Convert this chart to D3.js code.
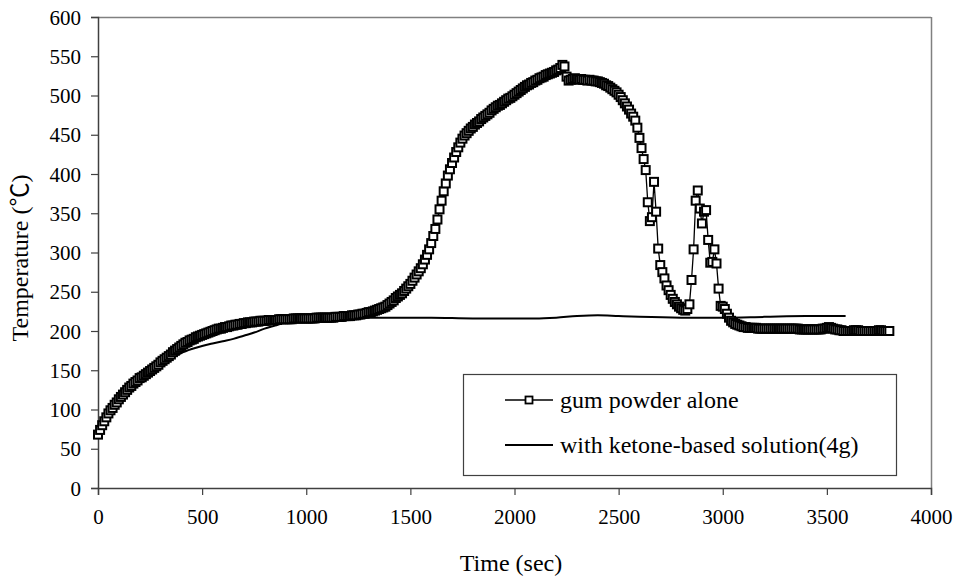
<!DOCTYPE html>
<html>
<head>
<meta charset="utf-8">
<script src="https://cdn.jsdelivr.net/npm/d3@7"></script>
<style>
  html, body { margin: 0; padding: 0; background: #fff; }
</style>
</head>
<body>
<svg id="chart" width="959" height="579"></svg>
<script>
// ---- data ----
const xTicks = [0, 500, 1000, 1500, 2000, 2500, 3000, 3500, 4000];
const yTicks = [0, 50, 100, 150, 200, 250, 300, 350, 400, 450, 500, 550, 600];
const seriesNames = ["gum powder alone", "with ketone-based solution(4g)"];

// gum powder alone: sampled every 10 s starting at 0 s
const gumStep = 10;
const gumTemp = [
  68, 74, 80, 85, 90, 95, 99, 102, 106, 109,
  113, 116, 119, 122, 125, 128, 130, 133, 135, 137,
  140, 141, 143, 145, 147, 149, 151, 153, 155, 157,
  160, 162, 164, 166, 168, 170, 173, 175, 177, 179,
  181, 183, 185, 186, 188, 189, 190, 192, 193, 194,
  195, 196, 197, 198, 199, 200, 201, 202, 203, 203,
  204, 205, 205, 206, 207, 207, 208, 208, 209, 209,
  210, 210, 211, 211, 211, 212, 212, 212, 213, 213,
  213, 213, 214, 214, 214, 214, 214, 215, 215, 215,
  215, 215, 215, 215, 216, 216, 216, 216, 216, 216,
  216, 216, 216, 216, 216, 217, 217, 217, 217, 217,
  217, 217, 217, 217, 218, 218, 218, 218, 219, 219,
  219, 219, 220, 220, 220, 221, 221, 222, 222, 223,
  224, 224, 225, 226, 227, 228, 229, 230, 231, 233,
  235, 237, 239, 242, 244, 246, 248, 251, 254, 257,
  260, 264, 268, 272, 276, 280, 285, 291, 297, 304,
  312, 321, 330, 342, 355, 366, 378, 388, 398, 406,
  414, 421, 428, 434, 440, 445, 449, 452, 455, 458,
  460, 463, 465, 467, 470, 472, 474, 476, 478, 481,
  483, 485, 487, 488, 490, 492, 494, 496, 497, 499,
  501, 503, 505, 507, 509, 511, 513, 514, 516, 517,
  519, 520, 522, 523, 524, 526, 527, 528, 529, 530,
  532, 533, 535, 539, 537, 524, 519, 520, 521, 522,
  521, 520, 521, 520, 520, 519, 520, 519, 519, 518,
  518, 517, 516, 515, 513, 512, 510, 508, 506, 504,
  501, 498, 494, 490, 486, 482, 477, 473, 468, 459,
  446, 433, 419, 405, 364, 340, 345, 390, 352, 305,
  284, 275, 267, 258, 252, 246, 241, 237, 234, 231,
  229, 227, 226, 228, 234, 265, 304, 366, 379, 356,
  337, 352, 354, 316, 287, 288, 304, 286, 254, 232,
  231, 228, 222, 217, 213, 211, 209, 208, 207, 206,
  205, 205, 204, 204, 204, 204, 204, 203, 203, 203,
  203, 203, 203, 203, 203, 203, 203, 203, 203, 203,
  203, 203, 203, 203, 203, 203, 203, 202, 202, 202,
  202, 202, 202, 202, 202, 202, 202, 202, 203, 203,
  204, 205, 204, 203, 202, 202, 201, 201, 200, 200,
  200, 200, 200, 201, 201, 201, 200, 200, 200, 200,
  200, 200, 200, 200, 200, 201, 201, 200, 200, 200,
  200
];

// with ketone-based solution(4g)
const ketTime = [0, 50, 100, 150, 200, 250, 300, 350, 400, 450, 500, 550, 600, 650, 700, 750, 800, 850, 900, 950, 1000, 1100, 1200, 1300, 1400, 1500, 1600, 1800, 2000, 2100, 2200, 2300, 2400, 2500, 2600, 2800, 3000, 3200, 3400, 3590];
const ketTemp = [68, 95, 113, 128, 140, 149, 158, 165, 172, 177, 181, 184, 187, 190, 194, 198, 203, 207, 211, 214, 215, 216, 217, 217, 217, 217, 217, 216, 216, 216, 217, 219, 220, 219, 218, 217, 217, 218, 219, 219];

// ---- layout ----
const FONT = '"Liberation Serif", "Times New Roman", serif';
const CJK = '"Noto Sans CJK SC", "Noto Sans CJK JP", sans-serif';
const svg = d3.select("#chart");
const mLeft = 98, mRight = 931, mTop = 17, mBottom = 488;

const x = d3.scaleLinear().domain([0, 4000]).range([mLeft, mRight]);
const y = d3.scaleLinear().domain([0, 600]).range([mBottom, mTop]);

const gum = gumTemp.map((v, i) => ({ t: i * gumStep, v }));
const ket = ketTime.map((t, i) => ({ t, v: ketTemp[i] }));

// plot frame (top & right)
svg.append("line").attr("x1", mLeft).attr("x2", mRight).attr("y1", mTop + 0.5).attr("y2", mTop + 0.5)
  .attr("stroke", "#808080").attr("stroke-width", 1.5);
svg.append("line").attr("x1", mRight + 0.5).attr("x2", mRight + 0.5).attr("y1", mTop).attr("y2", mBottom)
  .attr("stroke", "#808080").attr("stroke-width", 1.5);

// axes
const xAxis = d3.axisBottom(x).tickValues(xTicks).tickFormat(d3.format("d")).tickSize(7).tickPadding(14);
const yAxis = d3.axisLeft(y).tickValues(yTicks).tickFormat(d3.format("d")).tickSize(7).tickPadding(10);

const gx = svg.append("g").attr("transform", `translate(0,${mBottom})`).call(xAxis);
const gy = svg.append("g").attr("transform", `translate(${mLeft},0)`).call(yAxis);
[gx, gy].forEach(g => {
  g.attr("font-family", null);
  g.select(".domain").attr("stroke", "#404040").attr("stroke-width", 1.5);
  g.selectAll(".tick line").attr("stroke", "#404040").attr("stroke-width", 1.2);
  g.selectAll(".tick text").style("font-family", FONT).style("font-size", "21px").attr("fill", "#000");
});
gy.selectAll(".tick text").attr("dy", "0.34em");

// axis titles
svg.append("text").attr("x", 511).attr("y", 571).attr("text-anchor", "middle")
  .style("font-family", FONT).style("font-size", "24px").attr("fill", "#000").text("Time (sec)");
const yt = svg.append("text").attr("transform", `translate(28,${258}) rotate(-90)`).attr("text-anchor", "middle")
  .style("font-family", FONT).style("font-size", "24px").attr("fill", "#000");
yt.append("tspan").text("Temperature (");
yt.append("tspan").style("font-family", CJK).text("\u2103");
yt.append("tspan").text(")");

// series lines
const ketLine = d3.line().x(d => x(d.t)).y(d => y(d.v)).curve(d3.curveMonotoneX);
svg.append("path").datum(ket).attr("d", ketLine).attr("fill", "none").attr("stroke", "#000").attr("stroke-width", 2);
const gumLine = d3.line().x(d => x(d.t)).y(d => y(d.v));
svg.append("path").datum(gum).attr("d", gumLine).attr("fill", "none").attr("stroke", "#000").attr("stroke-width", 1.3);

// markers
const ms = 8;
svg.append("g").selectAll("rect").data(gum).join("rect")
  .attr("x", d => x(d.t) - ms / 2).attr("y", d => y(d.v) - ms / 2)
  .attr("width", ms).attr("height", ms)
  .attr("fill", "#fff").attr("stroke", "#000").attr("stroke-width", 2);

// legend
const lg = svg.append("g");
lg.append("rect").attr("x", 463.5).attr("y", 374.5).attr("width", 433).attr("height", 101)
  .attr("fill", "#fff").attr("stroke", "#404040").attr("stroke-width", 1.2);
const rows = [400, 445];
seriesNames.forEach((name, i) => {
  lg.append("line").attr("x1", 505).attr("x2", 553).attr("y1", rows[i]).attr("y2", rows[i])
    .attr("stroke", "#000").attr("stroke-width", i === 0 ? 1.5 : 2);
  if (i === 0) {
    lg.append("rect").attr("x", 529 - 3.5).attr("y", rows[i] - 3.5).attr("width", 7).attr("height", 7)
      .attr("fill", "#fff").attr("stroke", "#000").attr("stroke-width", 1.8);
  }
  lg.append("text").attr("x", 560).attr("y", rows[i]).attr("dy", "0.33em")
    .style("font-family", FONT).style("font-size", "24px").attr("fill", "#000").text(name);
});
</script>
</body>
</html>
